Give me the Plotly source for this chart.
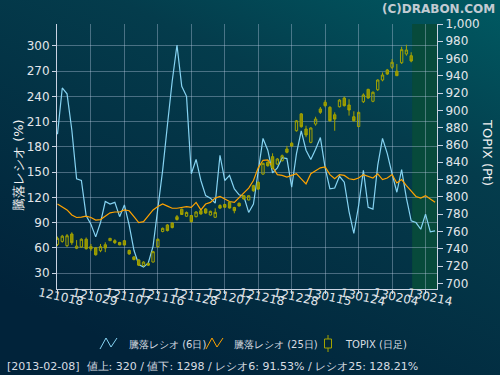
import base64
import plotly.graph_objects as go

# ---------------- data ----------------
tick_labels = ["121018", "121029", "121107", "121116", "121128", "121207",
               "121218", "121228", "130115", "130124", "130204", "130214"]
tick_days = [0, 7, 14, 21, 28, 35, 42, 49, 56, 63, 70, 77]

ratio6 = [195, 250, 243, 200, 142, 140, 98, 88, 73, 90,
          115, 112, 114, 97, 111, 87, 57, 40, 37, 42,
          62, 106, 152, 206, 258, 301, 252, 240, 148, 165,
          140, 122, 119, 113, 170, 140, 146, 130, 123, 121,
          102, 112, 150, 190, 176, 149, 155, 167, 166, 132,
          172, 199, 176, 165, 177, 191, 155, 130, 131, 145,
          138, 103, 77, 110, 152, 108, 106, 158, 190, 172,
          148, 126, 153, 119, 92, 90, 82, 100, 79, 80]

ratio25 = [112, 109, 105, 99, 96, 96.5, 97.5, 96, 93, 93.5,
           98, 101.5, 102.5, 102.5, 105, 104, 97, 90, 91, 98,
           105, 109, 112, 109.5, 107, 107, 108, 109, 108, 114,
           105, 112, 114, 119, 121, 118, 115, 114, 120, 125,
           131, 140, 155, 164, 164.5, 156, 147, 146, 144, 146,
           148, 142, 136, 148, 151, 155, 156, 147, 142, 147,
           146, 142, 141, 143, 147, 145, 143, 148, 141, 143,
           147, 137, 141, 134, 128, 121, 119, 122, 118, 114]

topix_open = [745, 748.5, 743.5, 757, 740.5, 742, 751, 742.4, 741, 737.7,
              744.6, 749.3, 749.3, 747.2, 749.3, 738, 730.5, 727, 720.5, 723,
              724.6, 742.3, 760, 767.5, 769.7, 777, 785.7, 777.6, 778.4, 777,
              784, 786, 779, 776.4, 790, 791.2, 793.7, 787.7, 792.6, 801.3,
              796.4, 813, 816.8, 826.4, 840, 846.5, 838, 841.8, 855.4, 862,
              876.5, 896, 878.5, 863.1, 884.3, 901.7, 909.4, 903.6, 895, 904.3,
              914.4, 906.3, 892.7, 881.4, 910.1, 924.4, 910.6, 924, 935.2, 946.8,
              949.9, 945.3, 955.2, 965.3, 963.3]
topix_high = [754, 756, 757, 759, 750, 752, 753, 745.5, 742, 745.5,
              747.4, 752.5, 751, 748, 750, 739, 731.5, 728, 725.5, 724,
              737.5, 752, 764.5, 768.5, 770.5, 779, 786.5, 783, 779, 783.5,
              785, 787, 784, 786.7, 791.5, 792, 795, 788.5, 793.5, 802,
              802, 814, 818, 839.5, 841, 850.4, 845, 849, 859, 863.5,
              889, 897, 882.3, 880.5, 892.7, 904, 912, 905, 897.8, 913,
              916, 913, 899, 898.5, 919.8, 925, 922, 936, 944, 948,
              959.5, 953.7, 973.7, 976, 967.3]
topix_low = [743, 747, 742, 744.5, 739.5, 741, 739, 737.5, 732, 736,
             736, 749, 745.5, 744, 744, 733, 726.5, 720, 719.5, 720,
             724, 741.5, 759, 760, 763.5, 772.5, 779, 777, 770.5, 776.5,
             779.5, 780.5, 778.5, 775.5, 786, 787.5, 786.5, 781, 789, 797,
             796, 806, 808, 825.5, 835, 832, 837, 841, 850.4, 858,
             875.5, 880, 869, 862, 882.3, 896, 903.6, 887, 876.5, 903.5,
             904.5, 894, 887, 880.5, 908.6, 913.5, 909.5, 922.5, 933.7, 941,
             948, 940, 953.7, 963.3, 955.7]
topix_close = [752, 754.5, 755, 747, 743, 751, 740, 740, 733, 742.4,
               740.8, 752, 747, 744.5, 744.3, 734, 727.5, 721, 724.5, 721,
               736.6, 750.9, 763.6, 761, 764.5, 773.8, 779.6, 782, 771.3, 782.5,
               780.2, 781.3, 783.3, 782.1, 787, 788, 787.1, 784, 789.4, 797.5,
               801.3, 807, 809, 838.8, 836, 833.4, 843.8, 847.6, 851.6, 858.8,
               888, 881.2, 871.6, 879.7, 890, 897.8, 905.5, 888, 890, 912,
               905.5, 900.5, 888.1, 897.8, 917.9, 914.4, 921, 935.2, 941, 942.1,
               955.7, 940.2, 970.3, 969.9, 957.2]

line_days = list(range(len(ratio6)))
candle_days = list(range(len(topix_open)))

left_ticks = [30, 60, 90, 120, 150, 180, 210, 240, 270, 300]

legend_names = ["騰落レシオ (6日)", "騰落レシオ (25日)", "TOPIX (日足)"]
status_text = "[2013-02-08]  値上: 320 / 値下: 1298 / レシオ6: 91.53% / レシオ25: 128.21%"

# ---------------- layout helpers ----------------
W, H = 500, 375
L, R, T, B = 57, 437, 24, 289
DAY_PX = (R - L) / 79.5


def px(xp):
    return (xp - L) / (R - L)


def py(yp):
    return (B - yp) / (B - T)


FONT = "DejaVu Sans"
TXT = "#e2e6ea"
GRID = "rgba(190,205,230,0.38)"
AXL = "#c9d2e2"
BLUE = "#86d3f2"
ORANGE = "#ffa200"
OLIVE = "#a3a300"

fig = go.Figure()

fig.add_trace(go.Scatter(
    x=line_days, y=ratio6, mode="lines", name=legend_names[0],
    line=dict(color=BLUE, width=1.2), yaxis="y"))
fig.add_trace(go.Scatter(
    x=line_days, y=ratio25, mode="lines", name=legend_names[1],
    line=dict(color=ORANGE, width=1.2), yaxis="y"))
fig.add_trace(go.Candlestick(
    x=candle_days, open=topix_open, high=topix_high, low=topix_low, close=topix_close,
    name=legend_names[2], yaxis="y2",
    increasing=dict(line=dict(color=OLIVE, width=1), fillcolor="rgba(0,0,0,0)"),
    decreasing=dict(line=dict(color=OLIVE, width=1), fillcolor="#8f8f00"),
    whiskerwidth=0))

fig.update_layout(
    width=W, height=H,
    margin=dict(l=L, r=W - R, t=T, b=H - B, pad=0),
    paper_bgcolor="#032c3c",
    plot_bgcolor="#1a3462",
    font=dict(family=FONT, color=TXT, size=12),
    showlegend=False,
    xaxis=dict(range=[-0.1, 79.4], tickmode="array", tickvals=tick_days,
               showticklabels=False, ticks="outside", ticklen=4, tickcolor=AXL,
               showgrid=True, gridcolor=GRID, gridwidth=1, zeroline=False,
               showline=True, linecolor=AXL, linewidth=1,
               rangeslider=dict(visible=False)),
    yaxis=dict(range=[11, 326], tickmode="array", tickvals=left_ticks,
               ticks="outside", ticklen=4, tickcolor=AXL,
               showgrid=True, gridcolor=GRID, gridwidth=1, zeroline=False,
               showline=True, linecolor=AXL, linewidth=1,
               tickfont=dict(size=12, color=TXT)),
    yaxis2=dict(range=[693.4, 1000], overlaying="y", side="right", dtick=20, tick0=700,
                tickformat=",d", ticks="outside", ticklen=5, tickcolor=AXL,
                showgrid=False, zeroline=False, showline=True, linecolor=AXL, linewidth=1,
                tickfont=dict(size=12, color=TXT)),
)

# background gradient (svg image)
svg = f"""<svg xmlns='http://www.w3.org/2000/svg' width='{W}' height='{H}'>
<defs><linearGradient id='g' x1='1' y1='0' x2='0.35' y2='1'>
<stop offset='0' stop-color='#005a62'/>
<stop offset='0.35' stop-color='#043c4c'/>
<stop offset='1' stop-color='#01233a'/>
</linearGradient></defs>
<rect width='{W}' height='{H}' fill='url(#g)'/></svg>"""
src = "data:image/svg+xml;base64," + base64.b64encode(svg.encode()).decode()
fig.add_layout_image(dict(source=src, xref="paper", yref="paper",
                          x=px(0), y=py(0), sizex=px(W) - px(0), sizey=py(0) - py(H),
                          xanchor="left", yanchor="top", sizing="stretch", layer="below"))

# green zone after the last candle
fig.add_shape(type="rect", xref="x", yref="paper", x0=74.2, x1=79.4, y0=0, y1=1,
              fillcolor="#074a3b", line=dict(width=0), layer="below")

# custom legend icons
def pth(points):
    return "M " + " L ".join(f"{px(a):.5f},{py(b):.5f}" for a, b in points)

fig.add_shape(type="path", xref="paper", yref="paper",
              path=pth([(100, 349), (106, 338), (111, 347), (117, 338)]),
              line=dict(color=BLUE, width=1))
fig.add_shape(type="path", xref="paper", yref="paper",
              path=pth([(206, 349), (212, 338), (217, 347), (223, 338)]),
              line=dict(color=ORANGE, width=1))
fig.add_shape(type="line", xref="paper", yref="paper",
              x0=px(328), x1=px(328), y0=py(335), y1=py(352),
              line=dict(color=OLIVE, width=1))
fig.add_shape(type="rect", xref="paper", yref="paper",
              x0=px(324.5), x1=px(331.5), y0=py(339), y1=py(348),
              fillcolor="#032838", line=dict(color=OLIVE, width=1))

annotations = [
    dict(text="<b>(C)DRABON.COM</b>", x=px(497), y=py(9), xanchor="right", yanchor="middle",
         font=dict(size=12, color="#c3cbd2")),
    dict(text="騰落レシオ (%)", x=px(18), y=py(165), textangle=-90,
         xanchor="center", yanchor="middle", font=dict(size=13, color="#f0f0f0")),
    dict(text="TOPIX (Pt)", x=px(488), y=py(152), textangle=90,
         xanchor="center", yanchor="middle", font=dict(size=13, color="#f0f0f0")),
    dict(text=status_text, x=px(5), y=py(366), xanchor="left", yanchor="middle",
         font=dict(size=11, color="#d8dde2")),
    dict(text=legend_names[0], x=px(127), y=py(344), xanchor="left", yanchor="middle",
         font=dict(size=10, color="#d8dde2")),
    dict(text=legend_names[1], x=px(232), y=py(344), xanchor="left", yanchor="middle",
         font=dict(size=10, color="#d8dde2")),
    dict(text=legend_names[2], x=px(343), y=py(344), xanchor="left", yanchor="middle",
         font=dict(size=10, color="#d8dde2")),
]
for a in annotations:
    a.update(xref="paper", yref="paper", showarrow=False)

# x tick labels (tilted, centred a little right of each tick)
for d, lab in zip(tick_days, tick_labels):
    annotations.append(dict(text=lab, x=d + 4 / DAY_PX, y=py(297), xref="x", yref="paper",
                            showarrow=False, textangle=12, xanchor="center", yanchor="middle",
                            font=dict(size=12, color=TXT)))

fig.update_layout(annotations=annotations)

fig.write_html("out.html", config={"displayModeBar": False},
               post_script="document.body.style.margin='0';")
